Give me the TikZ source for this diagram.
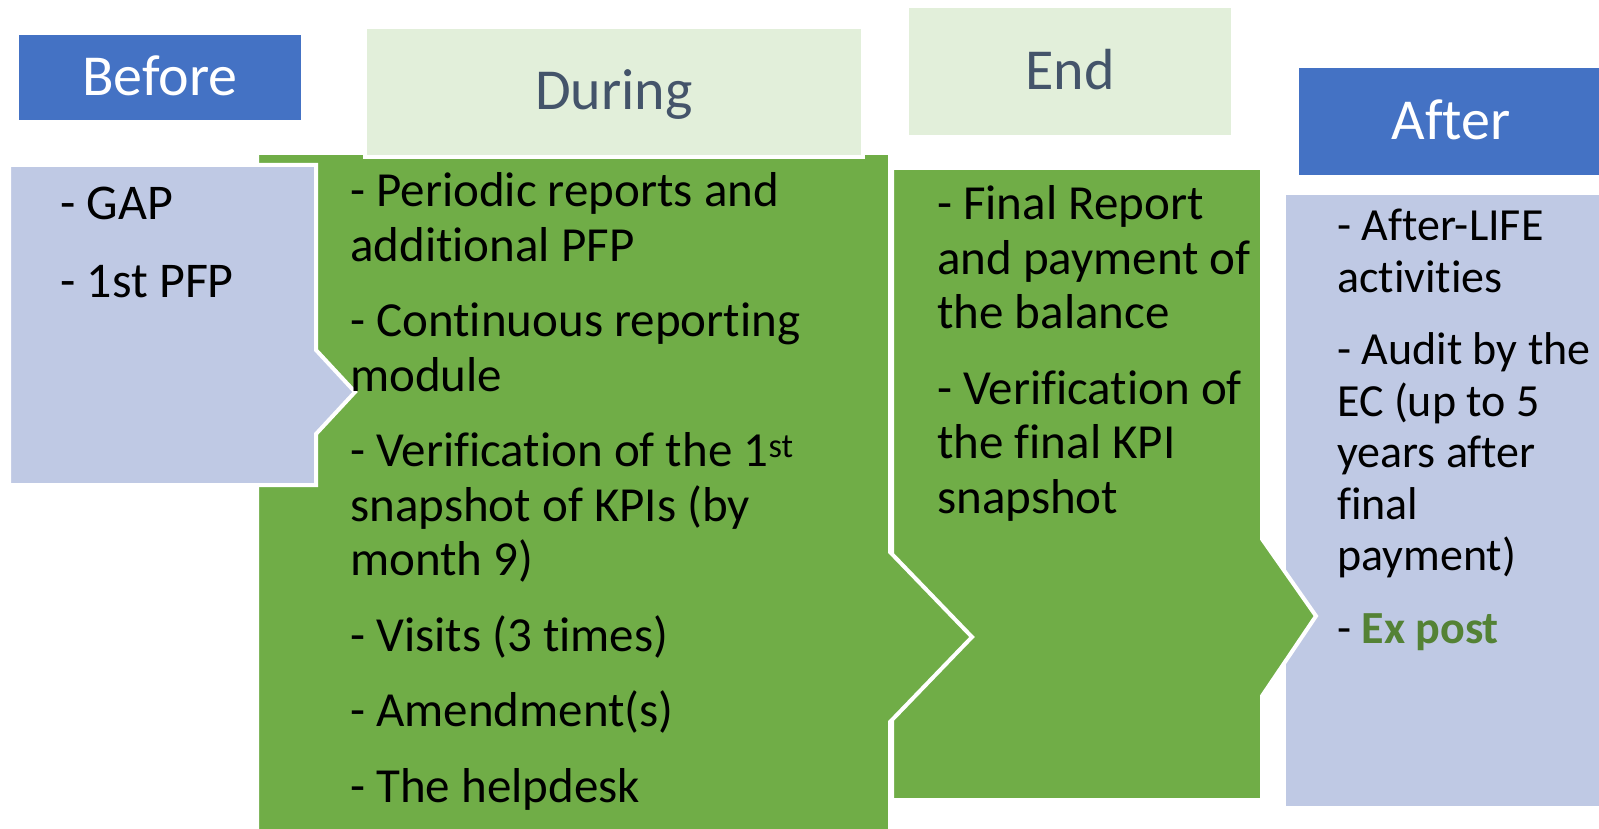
\documentclass[tikz,border=0pt]{standalone}
\usepackage{fontspec}
\setmainfont[RawFeature={-liga}]{Carlito}
\usepackage{xcolor}
\usepackage{tikz}
\usetikzlibrary{positioning}
\definecolor{headblue}{RGB}{68,114,196}
\definecolor{lavender}{RGB}{191,201,228}
\definecolor{leafgreen}{RGB}{112,173,71}
\definecolor{palegreen}{RGB}{226,239,218}
\definecolor{slate}{RGB}{68,84,106}
\definecolor{darkgreen}{RGB}{84,130,53}
\tikzstyle{stage} = [draw=white, line width=4pt, line join=miter]
\tikzstyle{head} = [inner sep=0pt, anchor=base, font=\fontsize{58}{70}\selectfont]
\tikzstyle{items} = [inner sep=0pt, anchor=base west]

\begin{document}
\begin{tikzpicture}[x=1pt, y=-1pt]
\useasboundingbox (0,0) rectangle (1599,829);
% Stages (drawn from last to first)
\filldraw [stage, fill=lavender] (1284,193) -- (1610,193) -- (1610,808) -- (1284,808) -- cycle;
\filldraw [stage, fill=leafgreen] (892,168) -- (1262,168) -- (1262,539) -- (1316,616) -- (1262,696) -- (1262,800) -- (892,800) -- cycle;
\filldraw [stage, fill=leafgreen] (257,153) -- (890,153) -- (890,552) -- (972,637) -- (890,722) -- (890,845) -- (257,845) -- cycle;
\filldraw [stage, fill=lavender] (9,165) -- (316,165) -- (316,350) -- (355,392) -- (316,434) -- (316,485) -- (9,485) -- cycle;

% Headers
\filldraw [stage, fill=headblue] (1297,66) rectangle (1605,177);
\filldraw [stage, fill=palegreen] (907,6) rectangle (1233,137);
\filldraw [stage, fill=palegreen] (365,27) rectangle (863,157);
\fill [headblue] (19,35) rectangle (301,120);

\node (before) [head, text=white] at (160,95.5) {Before};
\node (during) [head, text=slate] at (614,109.5) {During};
\node (end) [head, text=slate] at (1070,89.5) {End};
\node (after) [head, text=white] at (1451,139.5) {After};

% Items
\node (beforeItems) [items, font=\fontsize{50}{56}\selectfont] at (60,220)
  {\parbox[t]{250pt}{\raggedright\setlength{\parskip}{22pt}%
   - GAP\par
   - 1st PFP}};
\node (duringItems) [items, font=\fontsize{49}{54.5}\selectfont] at (350,207)
  {\parbox[t]{520pt}{\raggedright\setlength{\parskip}{21pt}%
   - Periodic reports and\\ additional PFP\par
   - Continuous reporting\\ module\par
   - Verification of the 1\textsuperscript{st}\\ snapshot of KPIs (by\\ month 9)\par
   - Visits (3 times)\par
   - Amendment(s)\par
   - The helpdesk}};
\node (endItems) [items, font=\fontsize{49}{54.5}\selectfont] at (937,220)
  {\parbox[t]{330pt}{\raggedright\setlength{\parskip}{21pt}%
   - Final Report\\ and payment of\\ the balance\par
   - Verification of\\ the final KPI\\ snapshot}};
\node (afterItems) [items, font=\fontsize{46}{51.5}\selectfont] at (1337,241)
  {\parbox[t]{280pt}{\raggedright\setlength{\parskip}{21pt}%
   - After-LIFE\\ activities\par
   - Audit by the\\ EC (up to 5\\ years after\\ final\\ payment)\par
   - \textcolor{darkgreen}{\textbf{Ex post}}}};
\end{tikzpicture}
\end{document}
